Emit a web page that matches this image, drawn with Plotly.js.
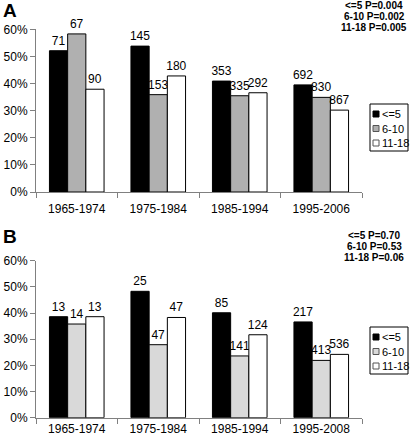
<!DOCTYPE html>
<html>
<head>
<meta charset="utf-8">
<script src="https://cdn.plot.ly/plotly-3.0.1.min.js"></script>
<style>html,body{margin:0;padding:0;background:#fff;}#chart{width:416px;height:439px;}</style>
</head>
<body>
<div id="chart"></div>
<script>
// ---- Data ----
var seriesNames = ["<=5", "6-10", "11-18"];
var categoriesA = ["1965-1974", "1975-1984", "1985-1994", "1995-2006"];
var categoriesB = ["1965-1974", "1975-1984", "1985-1994", "1995-2008"];

var valuesA_le5 = [52.1, 53.8, 40.9, 39.5];
var valuesA_6to10 = [58.3, 35.9, 35.5, 34.9];
var valuesA_11to18 = [37.9, 42.8, 36.6, 30.2];
var countsA_le5 = ["71", "145", "353", "692"];
var countsA_6to10 = ["67", "153", "335", "830"];
var countsA_11to18 = ["90", "180", "292", "867"];

var valuesB_le5 = [38.6, 48.3, 40.1, 36.6];
var valuesB_6to10 = [35.8, 27.9, 23.6, 21.9];
var valuesB_11to18 = [38.6, 38.3, 31.7, 24.2];
var countsB_le5 = ["13", "25", "85", "217"];
var countsB_6to10 = ["14", "47", "141", "413"];
var countsB_11to18 = ["13", "47", "124", "536"];

var pValuesA = ["<=5 P=0.004", "6-10 P=0.002", "11-18 P=0.005"];
var pValuesB = ["<=5 P=0.70", "6-10 P=0.53", "11-18 P=0.06"];
var panelLabels = ["A", "B"];
var yTickVals = [0, 10, 20, 30, 40, 50, 60];
var yTickText = yTickVals.map(function (v) { return v + "%"; });

// ---- Styles ----
var W = 416, H = 439;
var colorsA = ["#000000", "#b0b0b0", "#ffffff"];
var colorsB = ["#000000", "#d9d9d9", "#ffffff"];
var FONT = "Liberation Sans, Arial, sans-serif";

function mkTrace(x, y, txt, name, color, xa, ya) {
  return {
    type: "bar", x: x, y: y, name: name, text: txt,
    textposition: "outside", constraintext: "none", cliponaxis: false,
    textfont: {family: FONT, size: 12, color: "#000"},
    marker: {color: color, line: {color: "#000", width: 1}},
    xaxis: xa, yaxis: ya, showlegend: false, hoverinfo: "skip"
  };
}

var traces = [
  mkTrace(categoriesA, valuesA_le5, countsA_le5, seriesNames[0], colorsA[0], "x", "y"),
  mkTrace(categoriesA, valuesA_6to10, countsA_6to10, seriesNames[1], colorsA[1], "x", "y"),
  mkTrace(categoriesA, valuesA_11to18, countsA_11to18, seriesNames[2], colorsA[2], "x", "y"),
  mkTrace(categoriesB, valuesB_le5, countsB_le5, seriesNames[0], colorsB[0], "x2", "y2"),
  mkTrace(categoriesB, valuesB_6to10, countsB_6to10, seriesNames[1], colorsB[1], "x2", "y2"),
  mkTrace(categoriesB, valuesB_11to18, countsB_11to18, seriesNames[2], colorsB[2], "x2", "y2")
];

function px(x) { return x / W; }
function py(y) { return 1 - y / H; }

var xDomain = [px(36), px(362)];
function yAxis(dom, anchor) {
  return {
    domain: dom, anchor: anchor, range: [0, 60],
    tickmode: "array", tickvals: yTickVals, ticktext: yTickText,
    showgrid: false, zeroline: false, showline: true, linecolor: "#808080", linewidth: 1,
    ticks: "outside", ticklen: 5, tickcolor: "#808080",
    tickfont: {family: FONT, size: 12, color: "#000"}, fixedrange: true
  };
}
function xAxis(anchor, standoff) {
  return {
    domain: xDomain, anchor: anchor, type: "category",
    showline: true, linecolor: "#808080", linewidth: 1,
    ticks: "outside", tickson: "boundaries", ticklen: 5, tickcolor: "#808080",
    ticklabelstandoff: standoff,
    tickfont: {family: FONT, size: 12, color: "#000"}, fixedrange: true
  };
}

var shapes = [];
var annotations = [];

function addLegend(top, colors) {
  var left = 370, right = 408, bottom = top + 47;
  shapes.push({type: "rect", xref: "paper", yref: "paper",
    x0: px(left), x1: px(right), y0: py(bottom), y1: py(top),
    line: {color: "#000", width: 1}, fillcolor: "#fff"});
  for (var i = 0; i < seriesNames.length; i++) {
    var cy = top + 10 + i * 14.5;
    shapes.push({type: "rect", xref: "paper", yref: "paper",
      x0: px(left + 3), x1: px(left + 9), y0: py(cy + 3), y1: py(cy - 3),
      line: {color: colors[i] === "#000000" ? "#000" : "#555", width: 1}, fillcolor: colors[i]});
    annotations.push({xref: "paper", yref: "paper", x: px(left + 10), y: py(cy),
      xanchor: "left", yanchor: "middle", showarrow: false, text: seriesNames[i],
      font: {family: FONT, size: 11, color: "#000"}});
  }
}
addLegend(104, colorsA);
addLegend(327, colorsB);

function addPValues(lines, firstY) {
  for (var i = 0; i < lines.length; i++) {
    annotations.push({xref: "paper", yref: "paper", x: px(374), y: py(firstY + i * 11),
      xanchor: "center", yanchor: "middle", showarrow: false,
      text: "<b>" + lines[i].replace("<", "&lt;") + "</b>",
      font: {family: FONT, size: 10, color: "#000"}});
  }
}
addPValues(pValuesA, 5.5);
addPValues(pValuesB, 235);

annotations.push({xref: "paper", yref: "paper", x: px(1), y: py(11), xanchor: "left", yanchor: "middle",
  showarrow: false, text: "<b>" + panelLabels[0] + "</b>", font: {family: FONT, size: 19, color: "#000"}});
annotations.push({xref: "paper", yref: "paper", x: px(1), y: py(236), xanchor: "left", yanchor: "middle",
  showarrow: false, text: "<b>" + panelLabels[1] + "</b>", font: {family: FONT, size: 19, color: "#000"}});

var layout = {
  width: W, height: H,
  margin: {l: 0, r: 0, t: 0, b: 0},
  paper_bgcolor: "#fff", plot_bgcolor: "#fff",
  barmode: "group", bargap: 0.33, bargroupgap: 0,
  showlegend: false,
  font: {family: FONT, size: 12, color: "#000"},
  xaxis: xAxis("y", 6),
  yaxis: yAxis([py(192), py(29.3)], "x"),
  xaxis2: xAxis("y2", 0),
  yaxis2: yAxis([py(417.7), py(260.7)], "x2"),
  shapes: shapes,
  annotations: annotations
};

Plotly.newPlot("chart", traces, layout, {displayModeBar: false, staticPlot: true});
</script>
</body>
</html>
